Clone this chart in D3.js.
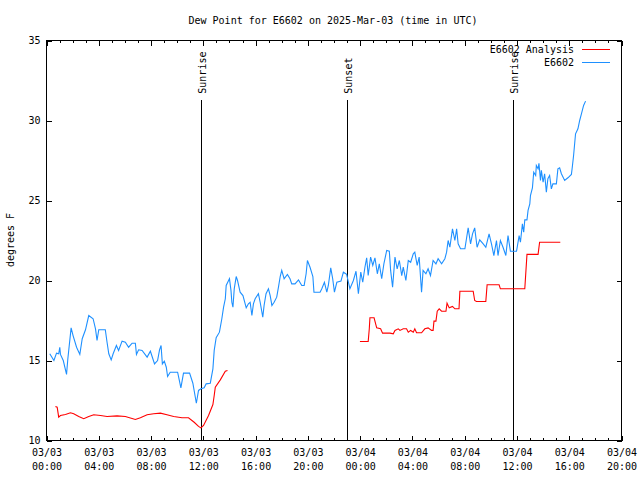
<!DOCTYPE html>
<html><head><meta charset="utf-8">
<script src="https://cdn.jsdelivr.net/npm/d3@7"></script>
<style>
body{margin:0;background:#fff}
svg{display:block}
text{font-family:"DejaVu Sans Mono","Liberation Mono",monospace;font-size:10px;fill:#000}
</style>
</head><body>
<svg id="c" width="640" height="480"></svg>
<script>
const chartTitle = "Dew Point for E6602 on 2025-Mar-03 (time in UTC)";
const yAxisLabel = "degrees F";
const startTime = "2025-03-03T00:00:00Z";
const endTime = "2025-03-04T20:00:00Z";
const yDomain = [10, 35];
const yTickValues = [10, 15, 20, 25, 30, 35];
const seriesNames = ["E6602 Analysis", "E6602"];
const seriesColors = ["#ff0000", "#1e90ff"];

// minutes after 03/03 00:00 UTC
const e6602Minutes = [15,34,46,56,61,64,77,92,98,113,
122,138,153,164,179,194,214,225,232,240,
270,278,286,297,306,321,331,347,362,377,
393,408,413,423,439,462,477,496,510,519,
526,532,541,550,556,568,602,617,629,657,
672,688,698,709,724,733,752,764,770,779,
794,805,813,821,825,836,840,847,851,856,
862,871,877,889,902,917,927,935,943,950,
958,973,981,993,999,1008,1019,1027,1035,1045,
1057,1065,1073,1080,1091,1106,1118,1126,1141,1157,
1172,1183,1192,1198,1210,1223,1228,1256,1264,1276,
1287,1294,1305,1314,1322,1333,1352,1363,1378,1393,
1409,1421,1432,1443,1452,1462,1470,1477,1488,1498,
1508,1519,1528,1539,1549,1562,1574,1580,1589,1600,
1610,1620,1631,1638,1650,1661,1672,1684,1691,1702,
1711,1722,1729,1742,1752,1763,1775,1788,1798,1814,
1829,1837,1844,1852,1864,1875,1883,1890,1901,1921,
1936,1947,1956,1966,1977,1989,2005,2017,2032,2043,
2054,2066,2073,2084,2096,2109,2119,2130,2158,2170,
2176,2185,2191,2196,2206,2211,2219,2222,2231,2237,
2246,2249,2257,2261,2268,2272,2280,2287,2295,2302,
2310,2318,2325,2341,2348,2356,2364,2379,2394,2410,
2414,2420,2429,2440,2448,2456,2466,2475];
const e6602Values = [15.42,15.0,15.46,15.42,15.83,15.38,15.0,14.13,15.11,17.04,
16.56,15.83,15.38,16.36,16.92,17.81,17.61,16.98,16.25,16.92,
16.92,16.14,15.42,15.04,15.42,15.94,15.63,16.21,16.14,15.83,
16.08,16.08,15.38,15.67,15.63,15.21,15.58,14.79,15.0,15.67,
15.94,14.79,14.96,14.58,14.0,14.27,14.27,13.29,14.21,14.21,
13.58,12.33,13.13,13.23,13.29,13.54,13.58,14.48,15.63,16.42,
16.77,17.61,18.33,18.86,19.69,20.0,20.11,19.38,18.64,18.33,
19.48,20.25,20.0,19.27,19.06,18.29,18.54,18.64,17.81,18.54,
18.86,19.17,18.64,17.71,18.44,19.17,19.48,19.06,18.44,18.64,
18.96,19.58,20.25,20.63,20.11,20.38,20.11,19.79,19.79,20.04,
19.69,19.69,20.42,21.25,20.83,20.25,19.27,19.27,19.48,19.89,
19.27,19.69,20.79,20.11,19.27,19.89,19.96,20.52,20.38,19.48,
20.0,20.58,19.17,20.52,19.89,20.83,21.42,20.31,21.46,20.94,
21.42,20.42,21.04,20.11,21.04,21.88,21.83,20.63,19.58,21.46,
20.73,21.25,20.31,20.83,20.0,21.25,21.14,21.67,21.77,20.94,
21.46,19.27,20.63,20.42,20.73,20.31,21.25,21.04,21.36,21.04,
21.36,21.77,22.5,22.08,23.23,22.5,23.23,22.29,21.98,21.98,
23.29,22.29,22.92,23.29,22.08,22.54,22.29,22.08,22.92,22.29,
21.56,22.5,21.56,22.5,22.08,21.56,22.81,21.83,21.83,22.81,
22.39,23.54,23.02,23.79,23.79,24.38,24.79,25.31,25.79,26.77,
26.56,27.19,26.98,27.33,26.25,26.88,26.14,26.67,25.52,26.36,
26.56,25.73,26.04,26.04,26.98,27.04,26.67,26.25,26.42,26.63,
27.08,27.81,29.17,29.48,30.0,30.42,30.94,31.21];

// analysis: null marks the gap
const analysisMinutes = [41,49,56,64,87,110,125,148,171,194,217,248,278,324,362,408,431,462,492,523,553,584,622,652,678,698,709,721,744,764,770,775,798,821,831,
null,
1439,1477,1482,1485,1504,1516,1534,1543,1577,1592,1600,1615,1623,1638,1653,1661,1672,1684,1691,1699,1722,1737,1752,1768,1775,1779,1788,1794,1803,1814,1834,1839,1849,1864,1875,1894,1898,1959,1966,1974,2017,2023,2078,2084,2196,2206,2257,2264,2359];
const analysisValues = [12.13,12.08,11.46,11.56,11.63,11.73,11.67,11.5,11.36,11.5,11.61,11.56,11.5,11.54,11.5,11.31,11.42,11.61,11.67,11.71,11.61,11.5,11.42,11.42,11.14,10.88,10.79,10.94,11.56,12.25,12.81,13.33,13.79,14.33,14.38,
null,
16.19,16.19,16.98,17.67,17.67,17.04,16.98,16.71,16.71,16.67,16.88,16.98,16.88,16.98,16.98,16.77,16.88,16.77,16.98,16.73,16.73,16.98,17.04,16.88,16.88,17.46,17.46,18.08,18.23,18.08,18.08,18.58,18.29,18.38,18.23,18.23,19.33,19.33,18.75,18.69,18.69,19.73,19.73,19.48,19.48,21.63,21.63,22.39,22.39];

const eventLabels = ["Sunrise", "Sunset", "Sunrise"];
const eventTimes = ["2025-03-03T11:49:00Z", "2025-03-03T23:01:00Z", "2025-03-04T11:42:00Z"];
const eventLineTop = 31.3;

const svg = d3.select("#c");
const L = 46.5, R = 621.5, T = 40.5, B = 440.5;
const t0 = new Date(startTime);
const x = d3.scaleUtc().domain([t0, new Date(endTime)]).range([L, R]);
const y = d3.scaleLinear().domain(yDomain).range([B, T]);
const toDate = m => new Date(t0.getTime() + m * 60000);

// minor x ticks (hourly)
const hourly = d3.utcHour.every(1);
const four = d3.utcHour.every(4);
function styleAxis(g){ g.select(".domain").remove(); g.selectAll("line").attr("stroke","#000").attr("shape-rendering","crispEdges"); }

svg.append("g").attr("transform",`translate(0,${B})`)
  .call(d3.axisBottom(x).ticks(hourly).tickSize(-2.5).tickFormat("")).call(styleAxis);
svg.append("g").attr("transform",`translate(0,${T})`)
  .call(d3.axisTop(x).ticks(hourly).tickSize(-2.5).tickFormat("")).call(styleAxis);

const fmtD = d3.utcFormat("%m/%d"), fmtH = d3.utcFormat("%H:%M");
const xb = svg.append("g").attr("transform",`translate(0,${B})`)
  .call(d3.axisBottom(x).ticks(four).tickSize(-5).tickPadding(0).tickFormat(d => fmtD(d))).call(styleAxis);
xb.selectAll(".tick text").each(function(d){
  const t = d3.select(this).attr("y",null).attr("dy",null).text(null)
    .attr("font-family",null).attr("font-size",null);
  t.append("tspan").attr("x",0).attr("y",15.5).text(fmtD(d));
  t.append("tspan").attr("x",0).attr("y",29.5).text(fmtH(d));
});
svg.append("g").attr("transform",`translate(0,${T})`)
  .call(d3.axisTop(x).ticks(four).tickSize(-5).tickFormat("")).call(styleAxis);

const yl = svg.append("g").attr("transform",`translate(${L},0)`)
  .call(d3.axisLeft(y).tickValues(yTickValues).tickSize(-5).tickPadding(6).tickFormat(d3.format("d"))).call(styleAxis);
yl.selectAll("text").attr("font-family",null).attr("font-size",null);
svg.append("g").attr("transform",`translate(${R},0)`)
  .call(d3.axisRight(y).tickValues(yTickValues).tickSize(-5).tickFormat("")).call(styleAxis);

// frame
svg.append("rect").attr("x",L).attr("y",T).attr("width",R-L).attr("height",B-T)
  .attr("fill","none").attr("stroke","#000").attr("shape-rendering","crispEdges");

// events
eventTimes.forEach((et,i)=>{
  const ex = Math.round(x(new Date(et))) + 0.5;
  svg.append("line").attr("x1",ex).attr("x2",ex).attr("y1",y(eventLineTop)).attr("y2",y(yDomain[0]))
    .attr("stroke","#000").attr("shape-rendering","crispEdges");
  svg.append("text").attr("transform",`translate(${ex+0.5},${y(eventLineTop)-6}) rotate(-90)`)
    .attr("dy","0.35em").attr("text-anchor","start").text(eventLabels[i]);
});

// series
const line = d3.line().defined(d => d[0] !== null && d[1] !== null)
  .x(d => x(toDate(d[0]))).y(d => y(d[1]));
const analysisData = analysisMinutes.map((m,i)=>[m, analysisValues[i]]);
const e6602Data = e6602Minutes.map((m,i)=>[m, e6602Values[i]]);
svg.append("path").datum(analysisData).attr("d",line).attr("fill","none")
  .attr("stroke",seriesColors[0]).attr("stroke-width",1.1);
svg.append("path").datum(e6602Data).attr("d",line).attr("fill","none")
  .attr("stroke",seriesColors[1]).attr("stroke-width",1.1);

// legend
seriesNames.forEach((n,i)=>{
  const ly = 49.5 + i*13;
  svg.append("text").attr("x",574).attr("y",ly).attr("dy","0.35em").attr("text-anchor","end").text(n);
  svg.append("line").attr("x1",582).attr("x2",610).attr("y1",ly).attr("y2",ly)
    .attr("stroke",seriesColors[i]).attr("shape-rendering","crispEdges");
});

// title & y label
svg.append("text").attr("x",333).attr("y",20).attr("dy","0.35em").attr("text-anchor","middle").text(chartTitle);
svg.append("text").attr("transform","translate(10,240) rotate(-90)").attr("dy","0.35em")
  .attr("text-anchor","middle").text(yAxisLabel);
</script>
</body></html>
